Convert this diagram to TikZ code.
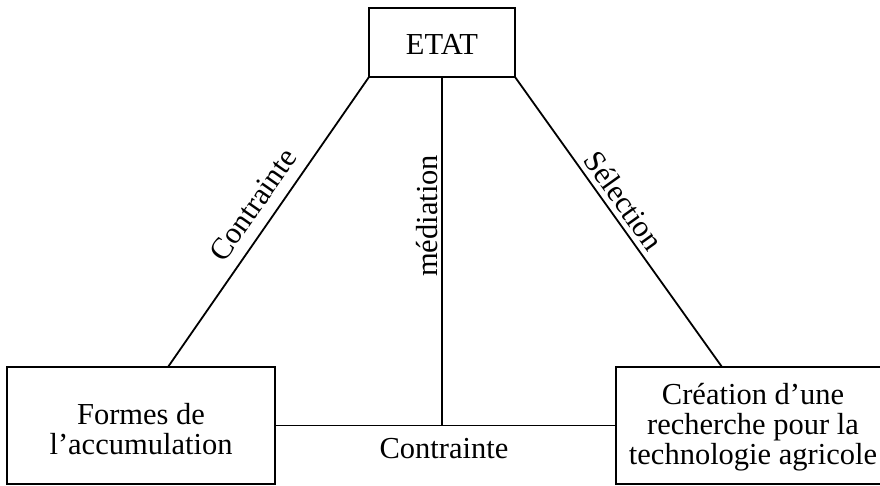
\documentclass[tikz,border=0pt]{standalone}
\usepackage{fontspec}
\setmainfont{Liberation Serif}
\begin{document}
\begin{tikzpicture}[x=1pt,y=-1pt,
  every node/.style={font=\fontsize{30.5}{30}\selectfont},
  boxnode/.style={draw=black,line width=1.8pt,inner sep=0pt,outer sep=0pt},
  txt/.style={align=center,inner sep=0pt},
  conn/.style={line width=1.8pt,draw=black}]
\useasboundingbox (0,0) rectangle (880,486);
\node[boxnode,minimum width=146pt,minimum height=69pt] (etat) at (442,42.5) {};
\node[txt] (etatt) at (442,44) {ETAT};
\node[boxnode,minimum width=268pt,minimum height=117pt] (left) at (141,425.5) {};
\node[txt] (leftt) at (141,429) {Formes de\\l'accumulation};
\node[boxnode,minimum width=270pt,minimum height=117pt] (right) at (751,425.5) {};
\node[txt] (rightt) at (753,427) {Création d'une\\recherche pour la\\technologie agricole};
\coordinate (lt) at (168,367);
\coordinate (rt) at (722,367);
\draw[conn] (etat.south west) -- (lt);
\draw[conn] (etat.south east) -- (rt);
\draw[conn] (etat.south) -- (etat.south |- left.east);
\draw[conn] (left.east) -- (right.west);
\node[txt,rotate=55.1] (lc) at (253,205) {Contrainte};
\node[txt,rotate=90] (lm) at (427,216) {médiation};
\node[txt,rotate=-54.5] (ls) at (624,200.5) {Sélection};
\node[txt] (lb) at (444,449) {Contrainte};
\end{tikzpicture}
\end{document}
